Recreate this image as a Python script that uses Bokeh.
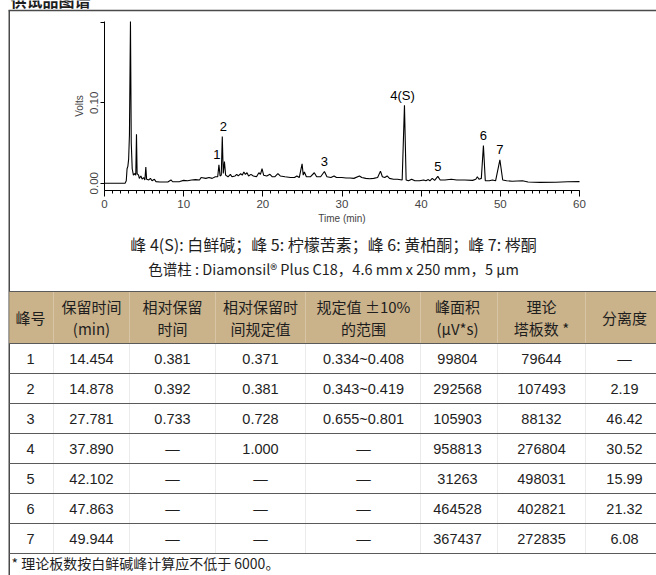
import numpy as np
from bokeh.plotting import figure
from bokeh.models import Range1d, FixedTicker, SingleIntervalTicker, LinearAxis
from bokeh.embed import file_html
from bokeh.resources import INLINE
from bokeh.core.properties import value

# ---------------- data ----------------
trace_t = [0.0, 2.6, 2.75, 2.85, 2.95, 3.05, 3.15, 3.28, 3.38, 3.5, 3.65, 3.8, 3.95, 4.04, 4.12,
           4.3, 4.4, 4.6, 4.75, 4.95, 5.1, 5.22, 5.32, 5.6, 5.8, 6.0, 6.3, 6.5, 7.0, 8.0, 8.4, 8.6,
           9.5, 10.0, 10.5, 11.0, 11.5, 12.0, 12.2, 12.8, 13.2, 13.6, 14.0, 14.3, 14.454, 14.6, 14.75,
           14.878, 15.0, 15.15, 15.3, 15.6, 15.9, 16.1, 16.5, 16.7, 16.9, 17.2, 17.4, 17.6, 17.8, 18.0,
           18.2, 18.5, 18.8, 19.2, 19.5, 19.7, 19.9, 20.1, 20.5, 20.9, 21.2, 21.5, 21.9, 22.2, 22.8,
           23.5, 24.0, 24.3, 24.6, 24.96, 25.1, 25.25, 25.5, 26.0, 26.5, 26.8, 27.3, 27.781, 28.1,
           28.6, 29.0, 29.3, 30.0, 30.5, 31.0, 31.5, 32.2, 32.5, 33.0, 33.5, 34.0, 34.5, 34.86, 35.1,
           35.4, 35.7, 36.0, 36.5, 37.0, 37.6, 37.89, 38.1, 38.4, 38.8, 39.2, 39.8, 40.3, 40.6, 40.9,
           41.1, 41.4, 41.7, 42.102, 42.4, 43.0, 43.8, 44.5, 45.5, 46.5, 46.9, 47.1, 47.3, 47.6,
           47.863, 48.1, 48.6, 49.0, 49.4, 49.944, 50.3, 50.8, 51.5, 52.8, 53.5, 55.0, 57.0, 58.5, 60.0]
trace_v = [0.000, 0.000, 0.003, 0.018, 0.021, 0.030, 0.060, 0.201, 0.050, 0.018, 0.010, 0.012, 0.010, 0.061, 0.012,
           0.010, 0.006, 0.009, 0.005, 0.007, 0.004, 0.020, 0.005, 0.004, 0.006, 0.003, 0.005, 0.002, 0.0015, 0.0015, 0.004, 0.0018,
           0.002, 0.0035, 0.003, 0.004, 0.0045, 0.004, 0.007, 0.006, 0.007, 0.006, 0.008, 0.008, 0.023, 0.009, 0.010,
           0.058, 0.012, 0.027, 0.010, 0.008, 0.011, 0.008, 0.009, 0.011, 0.009, 0.012, 0.010, 0.014, 0.011, 0.013,
           0.009, 0.011, 0.009, 0.008, 0.013, 0.011, 0.018, 0.010, 0.009, 0.011, 0.008, 0.008, 0.012, 0.009, 0.008,
           0.007, 0.007, 0.009, 0.007, 0.024, 0.010, 0.014, 0.008, 0.008, 0.013, 0.008, 0.008, 0.0146, 0.008,
           0.007, 0.009, 0.007, 0.007, 0.0065, 0.0065, 0.006, 0.009, 0.007, 0.006, 0.0055, 0.006, 0.007, 0.015, 0.008,
           0.007, 0.009, 0.006, 0.005, 0.005, 0.004, 0.097, 0.004, 0.003, 0.005, 0.003, 0.003, 0.004, 0.003, 0.0045,
           0.003, 0.006, 0.0035, 0.0085, 0.004, 0.004, 0.005, 0.004, 0.004, 0.0035, 0.005, 0.008, 0.005, 0.006,
           0.047, 0.003, 0.003, 0.004, 0.003, 0.029, 0.004, 0.003, 0.0025, 0.003, 0.0015, 0.001, 0.0012, 0.0018, 0.002]

peak_labels = ["1", "2", "3", "4(S)", "5", "6", "7"]
peak_no = [1, 2, 3, 4, 5, 6, 7]
rt = [14.454, 14.878, 27.781, 37.890, 42.102, 47.863, 49.944]
rrt = [0.381, 0.392, 0.733, None, None, None, None]
rrt_spec = [0.371, 0.381, 0.728, 1.000, None, None, None]
range_lo = [0.334, 0.343, 0.655, None, None, None, None]
range_hi = [0.408, 0.419, 0.801, None, None, None, None]
area = [99804, 292568, 105903, 958813, 31263, 464528, 367437]
plates = [79644, 107493, 88132, 276804, 498031, 402821, 272835]
resolution = [None, 2.19, 46.42, 30.52, 15.99, 21.32, 6.08]

y_ticks = [0.0, 0.1, 0.2]
y_tick_text = {0.0: "0.00", 0.1: "0.10", 0.2: ""}

header_line1 = ["峰号", "保留时间", "相对保留", "相对保留时", "规定值 ±10%", "峰面积", "理论", "分离度"]
header_line2 = ["", "(min)", "时间", "间规定值", "的范围", "(μV*s)", "塔板数 *", ""]

title_text = "供试品图谱"
caption1 = "峰 4(S): 白鲜碱；峰 5: 柠檬苦素；峰 6: 黄柏酮；峰 7: 梣酮"
caption2 = "色谱柱 : Diamonsil® Plus C18，4.6 mm x 250 mm，5 μm"
footnote = "* 理论板数按白鲜碱峰计算应不低于 6000。"

# ---------------- styles / geometry ----------------
LAT = "Liberation Sans"
CJK = "Noto Sans CJK SC"
TAN = "#CAB28A"
BOX = "#4a4a4a"
RULE = "#5a5a5a"
TXT = "#1e1e1e"

W, H = 656, 575
# chromatogram placement on the page (pixels)
PX_T0, PX_T60 = 104.0, 579.0      # x pixel of 0 min and 60 min
PX_V0, PX_PER_V = 182.7, 804.0    # y pixel of 0 V, pixels per volt
AX_BOTTOM_PX, AX_TOP_PX = 190.0, 21.0

ppm = (PX_T60 - PX_T0) / 60.0
x_lo = -PX_T0 / ppm
x_hi = 60.0 + (W - PX_T60) / ppm
y_hi = PX_V0 / PX_PER_V
y_lo = -(H - PX_V0) / PX_PER_V
ax_ymin = -(AX_BOTTOM_PX - PX_V0) / PX_PER_V
ax_ymax = (PX_V0 - AX_TOP_PX) / PX_PER_V

p = figure(width=W, height=H, output_backend="svg", toolbar_location=None,
           x_range=Range1d(x_lo, x_hi), y_range=Range1d(y_lo, y_hi),
           min_border=0, x_axis_location=None, y_axis_location=None)
p.extra_x_ranges = {"px": Range1d(0, W)}
p.extra_y_ranges = {"px": Range1d(H, 0)}
p.outline_line_color = None
p.grid.visible = False
p.background_fill_color = "white"
p.border_fill_color = "white"

# ---- chromatogram ----
p.line(trace_t, trace_v, line_color="black", line_width=1.1)

apex = np.interp(rt, trace_t, trace_v)
p.text(x=rt, y=apex, text=peak_labels, x_offset=[-2, 1, 0, -2, 0, 0, 0], y_offset=-10,
       text_align="center", text_baseline="middle", text_font=value(LAT),
       text_font_size="13px", text_color="black")

xa = LinearAxis(fixed_location=ax_ymin, bounds=(0, 60),
                ticker=SingleIntervalTicker(interval=10, num_minor_ticks=10))
xa.axis_label = "Time (min)"
xa.axis_label_text_font = LAT
xa.axis_label_text_font_size = "10px"
xa.axis_label_text_font_style = "normal"
xa.axis_label_standoff = 2
xa.major_label_text_font = LAT
xa.major_label_text_font_size = "11.5px"
xa.major_label_standoff = 3
xa.major_tick_in = 0
xa.major_tick_out = 6
xa.minor_tick_in = 0
xa.minor_tick_out = 3
xa.axis_line_color = "black"
p.add_layout(xa, "below")

ya = LinearAxis(fixed_location=0, bounds=(ax_ymin, ax_ymax), ticker=FixedTicker(ticks=y_ticks))
ya.major_label_overrides = y_tick_text
ya.major_label_orientation = "vertical"
ya.axis_label = "Volts"
ya.axis_label_text_font = LAT
ya.axis_label_text_font_size = "10px"
ya.axis_label_text_font_style = "normal"
ya.axis_label_standoff = 3
ya.major_label_text_font = LAT
ya.major_label_text_font_size = "11.5px"
ya.major_label_standoff = 2
ya.major_tick_in = 0
ya.major_tick_out = 4
ya.minor_tick_line_color = None
ya.axis_line_color = "black"
p.add_layout(ya, "left")

# ---- page frame, captions and table (pixel coordinates) ----
PX = dict(x_range_name="px", y_range_name="px")

# heading above the box (cut off at the top edge, as in the source)
p.text(x=[10], y=[-1], text=[title_text], text_align="left", text_baseline="middle",
       text_font=value(CJK), text_font_size="16px", text_font_style="bold", text_color=TXT, **PX)

# outer box
p.segment(x0=[8.75, 8.0], y0=[10.0, 10.0], x1=[8.75, W + 5], y1=[H + 5, 10.0],
          line_color=BOX, line_width=1.5, **PX)

p.text(x=[333, 333], y=[243, 268], text=[caption1, caption2], text_align="center",
       text_baseline="middle", text_font=value(CJK), text_font_size=["16px", "14.5px"],
       text_color=TXT, **PX)

col_edges = [8.75, 53, 129, 215, 305, 420, 497, 585, W + 5]
col_centers = [30, 91, 172, 260, 363, 457, 541, 624]
head_top, head_bot, row_h = 291.0, 343.0, 30.0
n = len(peak_no)
row_edges = [head_bot + i * row_h for i in range(n + 1)]
row_centers = [head_bot + (i + 0.5) * row_h for i in range(n)]

p.quad(left=col_edges[0], right=col_edges[-1], top=head_top, bottom=head_bot,
       fill_color=TAN, line_color=None, **PX)
p.segment(x0=col_edges[1:-1], y0=head_top, x1=col_edges[1:-1], y1=head_bot,
          line_color="#d8c5a6", line_width=1, **PX)
p.segment(x0=col_edges[1:-1], y0=head_bot, x1=col_edges[1:-1], y1=row_edges[-1],
          line_color="#ebebeb", line_width=1, **PX)
hl = [head_top] + row_edges
p.segment(x0=col_edges[0], y0=hl, x1=col_edges[-1], y1=hl,
          line_color=RULE, line_width=1.2, **PX)

single = [i for i, s in enumerate(header_line2) if s == ""]
double = [i for i, s in enumerate(header_line2) if s != ""]
hkw = dict(text_align="center", text_baseline="middle", text_font=value(CJK),
           text_font_size="15px", text_color=TXT)
p.text(x=[col_centers[i] for i in single], y=(head_top + head_bot) / 2,
       text=[header_line1[i] for i in single], **hkw, **PX)
p.text(x=[col_centers[i] for i in double], y=head_top + 15,
       text=[header_line1[i] for i in double], **hkw, **PX)
p.text(x=[col_centers[i] for i in double], y=head_top + 37,
       text=[header_line2[i] for i in double], **hkw, **PX)

DASH = "—"
def f3(v):
    return DASH if v is None else f"{v:.3f}"

cols = [
    [str(v) for v in peak_no],
    [f3(v) for v in rt],
    [f3(v) for v in rrt],
    [f3(v) for v in rrt_spec],
    [DASH if lo is None else f"{lo:.3f}~{hi:.3f}" for lo, hi in zip(range_lo, range_hi)],
    [str(v) for v in area],
    [str(v) for v in plates],
    [DASH if v is None else f"{v:.2f}" for v in resolution],
]
xs, ys, ts = [], [], []
for ci, col in enumerate(cols):
    for ri, t in enumerate(col):
        xs.append(col_centers[ci]); ys.append(row_centers[ri]); ts.append(t)
p.text(x=xs, y=ys, text=ts, text_align="center", text_baseline="middle",
       text_font=value(LAT), text_font_size="14.5px", text_color=TXT, **PX)

p.text(x=[11], y=[row_edges[-1] + 9], text=[footnote], text_align="left", text_baseline="middle",
       text_font=value(CJK), text_font_size="14px", text_color=TXT, **PX)

open("out.html", "w").write(file_html(p, INLINE))
